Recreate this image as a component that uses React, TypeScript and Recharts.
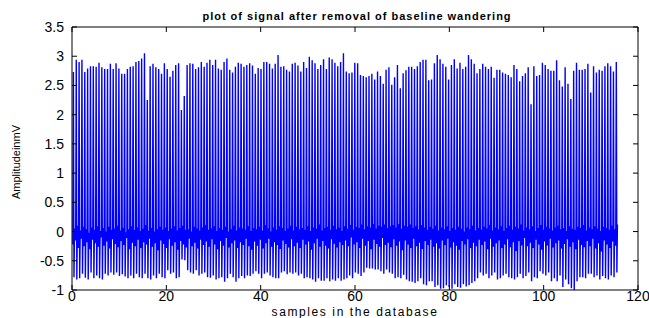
import React from 'react';
import { LineChart, Line, XAxis, YAxis } from 'recharts';

// R-peak heights (mV), read beat by beat from the picture
const peaks = [
  2.73, 2.94, 2.90, 2.94, 2.73, 2.79, 2.83, 2.83, 2.82, 2.89, 2.81, 2.78, 2.78, 2.87, 2.78, 2.88, 2.79, 2.70, 2.70, 2.78, 2.82, 2.83, 2.90, 2.92, 2.96, 3.05, 2.25, 2.83, 2.87, 2.81, 2.78, 2.70, 2.88,
  2.78, 2.65, 2.75, 2.85, 2.88, 2.08, 2.32, 2.85, 2.88, 2.87, 2.78, 2.81, 2.90, 2.82, 2.89, 2.94, 2.85, 2.94, 2.79, 2.77, 2.90, 2.96, 2.77, 2.72, 2.82, 2.89, 2.87, 2.82, 2.85, 2.88, 2.84, 2.70, 2.80,
  2.78, 2.90, 2.90, 2.87, 2.79, 2.87, 3.02, 2.82, 2.83, 2.77, 2.74, 2.87, 2.89, 2.84, 2.74, 2.90, 2.80, 2.99, 2.93, 2.88, 2.78, 2.85, 2.95, 2.78, 2.98, 2.95, 2.89, 2.83, 2.90, 3.05, 2.74,
  2.71, 2.72, 2.89, 2.88, 2.68, 2.66, 2.64, 2.66, 2.70, 2.60, 2.74, 2.66, 2.53, 2.77, 2.81, 2.51, 2.64, 2.85, 2.45, 2.71, 2.76, 2.82, 2.82, 2.78, 2.83, 2.90, 2.94, 2.94, 2.59, 2.60, 2.88, 3.02, 2.95,
  2.87, 2.82, 2.60, 2.85, 2.95, 2.79, 2.89, 2.78, 2.82, 3.02, 2.95, 2.87, 2.71, 2.78, 2.87, 2.82, 2.78, 2.82, 2.63, 2.77, 2.77, 2.72, 2.70, 2.68, 2.64, 2.85, 2.78, 2.57, 2.66, 2.71, 2.81, 2.18, 2.83, 2.66,
  2.68, 2.89, 2.85, 2.78, 2.75, 2.75, 2.93, 2.59, 2.48, 2.81, 2.53, 2.27, 2.75, 2.89, 2.77, 2.77, 2.78, 2.87, 2.38, 2.83, 2.72, 2.77, 2.75, 2.83, 2.88, 2.83, 2.74, 2.90,
];

// S-wave troughs (mV)
const troughs = [
  -0.78, -0.82, -0.80, -0.72, -0.79, -0.82, -0.70, -0.80, -0.75, -0.80, -0.82, -0.72, -0.75, -0.70, -0.74, -0.70, -0.76, -0.73, -0.77, -0.80, -0.75, -0.80, -0.72, -0.78, -0.80, -0.72, -0.80, -0.82, -0.75, -0.80, -0.72, -0.78, -0.80,
  -0.66, -0.72, -0.70, -0.80, -0.78, -0.48, -0.49, -0.66, -0.70, -0.72, -0.66, -0.75, -0.72, -0.70, -0.78, -0.79, -0.75, -0.82, -0.80, -0.78, -0.86, -0.80, -0.72, -0.78, -0.86, -0.80, -0.76, -0.80, -0.75, -0.76, -0.72, -0.68, -0.72,
  -0.80, -0.72, -0.70, -0.75, -0.78, -0.80, -0.80, -0.70, -0.68, -0.73, -0.70, -0.72, -0.70, -0.75, -0.72, -0.80, -0.78, -0.80, -0.82, -0.86, -0.80, -0.84, -0.84, -0.80, -0.85, -0.82, -0.84, -0.80, -0.84, -0.82, -0.80,
  -0.75, -0.80, -0.70, -0.72, -0.76, -0.70, -0.62, -0.63, -0.63, -0.65, -0.65, -0.68, -0.72, -0.65, -0.70, -0.72, -0.80, -0.78, -0.80, -0.74, -0.82, -0.85, -0.86, -0.88, -0.85, -0.80, -0.90, -0.92, -0.85, -0.85, -0.95, -0.92, -0.98,
  -0.97, -0.92, -0.95, -0.98, -0.90, -0.95, -0.96, -0.90, -0.94, -0.92, -0.88, -0.85, -0.80, -0.70, -0.75, -0.72, -0.80, -0.75, -0.70, -0.82, -0.80, -0.75, -0.72, -0.78, -0.80, -0.82, -0.78, -0.72, -0.80, -0.76, -0.70, -0.85, -0.78, -0.80,
  -0.68, -0.72, -0.75, -0.70, -0.85, -0.80, -0.85, -0.75, -0.95, -0.82, -0.90, -0.97, -1.0, -0.85, -0.78, -0.78, -0.80, -0.72, -0.72, -0.78, -0.75, -0.82, -0.76, -0.80, -0.82, -0.75, -0.78, -0.70,
];

// small overshoot after each S wave (mV)
const rebounds = [
  0.05, 0.10, 0.02, 0.08, 0.04, -0.02, 0.07, 0.03, 0.09, 0.01, 0.06, 0.00, 0.08, 0.03, 0.05, 0.10,
  0.02, 0.06, -0.01, 0.04, 0.09, 0.03, 0.07, 0.01, 0.05, 0.11, 0.02, 0.06, 0.00, 0.04, 0.08, 0.03,
  0.07, 0.01, 0.05, 0.09, 0.02, 0.06, 0.10, 0.03, 0.04, 0.00, 0.08, 0.05, 0.02, 0.07, 0.11, 0.03,
  0.05, 0.09, 0.01, 0.06, 0.03, 0.08, 0.00, 0.04, 0.10, 0.02, 0.07, 0.05, 0.03, 0.09, 0.01, 0.06,
  0.04, 0.08, 0.02, 0.11, 0.05, 0.00, 0.07, 0.03, 0.09, 0.06, 0.01, 0.05, 0.10, 0.02, 0.08, 0.04,
  0.06, 0.03, 0.09, 0.01, 0.07, 0.05, 0.12, 0.02, 0.06, 0.08, 0.03, 0.10, 0.04, 0.07, 0.01, 0.09,
  0.05, 0.11, 0.03, 0.08, 0.06, 0.12, 0.04, 0.09, 0.07, 0.13, 0.05, 0.10, 0.08, 0.12, 0.06, 0.09,
  0.11, 0.07, 0.13, 0.05, 0.10, 0.08, 0.12, 0.06, 0.09, 0.04, 0.11, 0.07, 0.03, 0.08, 0.05, 0.10,
  0.02, 0.07, 0.04, 0.09, 0.01, 0.06, 0.03, 0.08, 0.05, 0.00, 0.07, 0.04, 0.10, 0.02, 0.06, 0.03,
  0.08, 0.05, 0.11, 0.02, 0.07, 0.04, 0.09, 0.01, 0.06, 0.10, 0.03, 0.08, 0.05, 0.12, 0.02, 0.07,
  0.04, 0.09, 0.01, 0.06, 0.11, 0.03, 0.08, 0.05, 0.02, 0.07, 0.10, 0.04, 0.06, 0.01, 0.09, 0.05,
  0.03, 0.08, 0.06, 0.11, 0.02, 0.07, 0.04, 0.09, 0.05, 0.01, 0.08, 0.06, 0.03, 0.10, 0.04, 0.12,
];

// baseline level between beats (mV)
const baseline = [
  -0.22, -0.15, -0.28, -0.12, -0.25, -0.18, -0.30, -0.14, -0.20, -0.26, -0.10, -0.24, -0.17, -0.29, -0.13, -0.21,
  -0.27, -0.16, -0.23, -0.11, -0.30, -0.19, -0.25, -0.14, -0.28, -0.18, -0.22, -0.12, -0.26, -0.20, -0.32, -0.15,
  -0.21, -0.28, -0.13, -0.24, -0.18, -0.31, -0.16, -0.22, -0.27, -0.12, -0.25, -0.19, -0.29, -0.14, -0.23, -0.17,
  -0.26, -0.13, -0.22, -0.30, -0.16, -0.24, -0.11, -0.27, -0.20, -0.15, -0.28, -0.18, -0.23, -0.12, -0.25, -0.31,
  -0.17, -0.24, -0.14, -0.29, -0.20, -0.12, -0.26, -0.18, -0.23, -0.30, -0.15, -0.21, -0.27, -0.13, -0.25, -0.19,
  -0.28, -0.14, -0.22, -0.17, -0.31, -0.20, -0.12, -0.26, -0.16, -0.24, -0.29, -0.13, -0.21, -0.27, -0.18, -0.23,
  -0.15, -0.25, -0.10, -0.22, -0.18, -0.28, -0.12, -0.24, -0.16, -0.30, -0.14, -0.21, -0.26, -0.11, -0.23, -0.19,
  -0.27, -0.13, -0.24, -0.17, -0.32, -0.15, -0.22, -0.28, -0.12, -0.25, -0.19, -0.30, -0.16, -0.23, -0.14, -0.26,
  -0.20, -0.29, -0.15, -0.23, -0.12, -0.27, -0.18, -0.24, -0.31, -0.16, -0.22, -0.13, -0.28, -0.19, -0.25, -0.14,
  -0.23, -0.17, -0.30, -0.12, -0.26, -0.20, -0.15, -0.28, -0.22, -0.13, -0.27, -0.18, -0.33, -0.16, -0.24, -0.11,
  -0.25, -0.19, -0.28, -0.14, -0.22, -0.31, -0.17, -0.24, -0.12, -0.27, -0.20, -0.15, -0.29, -0.21, -0.13, -0.26,
  -0.18, -0.30, -0.14, -0.23, -0.27, -0.16, -0.25, -0.12, -0.29, -0.20, -0.34, -0.15, -0.22, -0.28, -0.17, -0.24,
];

const firstBeat = 0.3;
const lastBeat = 115.4;
const xTicks = [0, 20, 40, 60, 80, 100, 120];
const yTicks = [-1, -0.5, 0, 0.5, 1, 1.5, 2, 2.5, 3, 3.5];

const title = 'plot of signal after removal of baseline wandering';
const xLabel = 'samples in the database';
const yLabel = 'Amplitude in mV';

const FONT = '"Liberation Sans", Arial, Helvetica, sans-serif';

const step = (lastBeat - firstBeat) / (peaks.length - 1);
const data: { x: number; y: number }[] = [];
peaks.forEach((p, i) => {
  const c = firstBeat + i * step;
  data.push({ x: c - 0.12, y: baseline[i] });
  data.push({ x: c, y: p });
  data.push({ x: c + 0.12, y: troughs[i] });
  data.push({ x: c + 0.24, y: rebounds[i] });
});

const tickStyle = { fontSize: 14, fill: '#000', fontFamily: FONT };
const blank = () => '';

export default function App() {
  return (
    <div style={{ position: 'absolute', left: 0, top: 0, width: 649, height: 318, background: '#fff' }}>
      <LineChart width={649} height={318} data={data} margin={{ top: 0, right: 0, bottom: 0, left: 0 }}>
        <XAxis
          xAxisId="b"
          dataKey="x"
          type="number"
          domain={[0, 120]}
          ticks={xTicks}
          allowDataOverflow
          orientation="bottom"
          height={28}
          tickSize={-5}
          tickMargin={6}
          tick={tickStyle}
          axisLine={{ stroke: '#000' }}
          tickLine={{ stroke: '#000' }}
        />
        <XAxis
          xAxisId="t"
          dataKey="x"
          type="number"
          domain={[0, 120]}
          ticks={xTicks}
          allowDataOverflow
          orientation="top"
          height={27}
          tickSize={-5}
          tickFormatter={blank}
          axisLine={{ stroke: '#000' }}
          tickLine={{ stroke: '#000' }}
        />
        <YAxis
          yAxisId="l"
          type="number"
          domain={[-1, 3.5]}
          ticks={yTicks}
          allowDataOverflow
          orientation="left"
          width={72}
          tickSize={-5}
          tickMargin={13}
          tick={tickStyle}
          axisLine={{ stroke: '#000' }}
          tickLine={{ stroke: '#000' }}
        />
        <YAxis
          yAxisId="r"
          type="number"
          domain={[-1, 3.5]}
          ticks={yTicks}
          allowDataOverflow
          orientation="right"
          width={11}
          tickSize={-5}
          tickFormatter={blank}
          axisLine={{ stroke: '#000' }}
          tickLine={{ stroke: '#000' }}
        />
        <Line
          xAxisId="b"
          yAxisId="l"
          dataKey="y"
          type="linear"
          stroke="#0000ff"
          strokeWidth={1.4}
          dot={false}
          activeDot={false}
          isAnimationActive={false}
        />
        <text x={357} y={20} textAnchor="middle" fontFamily={FONT} fontSize={11} fontWeight="bold" letterSpacing={1} fill="#000">
          {title}
        </text>
        <text x={355} y={316} textAnchor="middle" fontFamily={FONT} fontSize={12} letterSpacing={1.6} fill="#000">
          {xLabel}
        </text>
        <text
          x={0}
          y={0}
          transform="translate(20,162) rotate(-90)"
          textAnchor="middle"
          fontFamily={FONT}
          fontSize={11}
          style={{ wordSpacing: '-3px' }}
          fill="#000"
        >
          {yLabel}
        </text>
      </LineChart>
    </div>
  );
}
